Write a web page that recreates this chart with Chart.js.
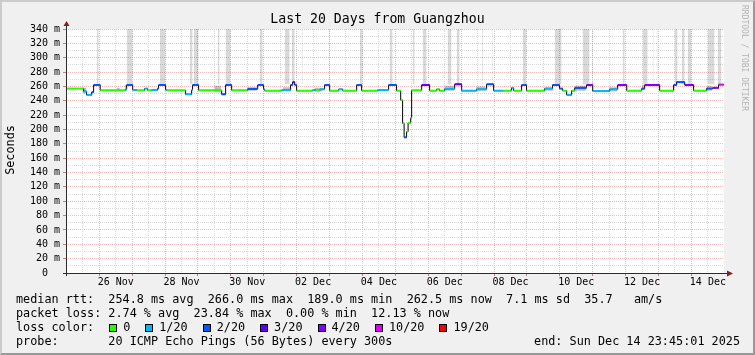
<!DOCTYPE html>
<html>
<head>
<meta charset="utf-8">
<title>Last 20 Days from Guangzhou</title>
<script src="https://cdn.jsdelivr.net/npm/chart.js@4.4.1/dist/chart.umd.min.js"></script>
<style>
  html, body { margin: 0; padding: 0; background: #f0f0f0; }
  #wrap { position: relative; width: 755px; height: 355px; overflow: hidden;
          font-family: 'DejaVu Sans Mono', monospace; color: #000; }
  #chart { position: absolute; left: 0; top: 0; }
  .txt { position: absolute; white-space: pre; }
  #title { left: 0; width: 755px; top: 11px; text-align: center; font-size: 13.2px; line-height: 16px; }
  #ylabel { left: -40px; top: 143px; width: 100px; text-align: center; font-size: 11.8px; line-height: 14px;
            transform: rotate(-90deg); }
  #credit { left: 740px; top: 5px; font-size: 8px; line-height: 9px; color: #b4b4b4; writing-mode: vertical-rl; }
  .leg { left: 16px; font-size: 11.8px; line-height: 14px; }
  #end { left: auto; right: 15px; top: 334px; }
  .box { display: inline-block; width: 8px; height: 8px; border: 1px solid #000; box-sizing: border-box;
         margin: 0 6px 0 15px; vertical-align: middle; }
  #frame { position: absolute; left: 0; top: 0; width: 755px; height: 355px; box-sizing: border-box;
           border: 2px solid; border-color: #cbcbcb #999999 #999999 #cbcbcb; pointer-events: none; }
</style>
</head>
<body>
<div id="wrap">
  <canvas id="chart" width="755" height="355"></canvas>
  <div class="txt" id="title">Last 20 Days from Guangzhou</div>
  <div class="txt" id="ylabel">Seconds</div>
  <div class="txt" id="credit">RRDTOOL / TOBI OETIKER</div>
  <div class="txt leg" style="top:292px">median rtt:  254.8 ms avg  266.0 ms max  189.0 ms min  262.5 ms now  7.1 ms sd  35.7   am/s</div>
  <div class="txt leg" style="top:306px">packet loss: 2.74 % avg  23.84 % max  0.00 % min  12.13 % now</div>
  <div class="txt leg" id="losscolor" style="top:320px">loss color:</div>
  <div class="txt leg" style="top:334px">probe:       20 ICMP Echo Pings (56 Bytes) every 300s</div>
  <div class="txt leg" id="end">end: Sun Dec 14 23:45:01 2025</div>
  <div id="frame"></div>
</div>
<script>
// hours counted from 25 Nov 00:00, graph ends 14 Dec 23:45
const startHour = -0.25;
const endHour = 479.75;

// loss legend
const lossLabels = ['0', '1/20', '2/20', '3/20', '4/20', '10/20', '19/20'];
const lossColors = ['#26ff00', '#00b8ff', '#0059ff', '#5e00ff', '#7e00ff', '#dd00ff', '#ff0000'];

// median rtt, step changes: start hour, value (ms), loss colour index
const rttHours = [-0.25, 12.6, 14.8, 18.5, 19.9, 24.7, 43.3, 44.0, 48.4, 51.3,
  57.1, 59.3, 62.2, 66.6, 67.3, 72.4, 73.2, 87.0, 91.4, 92.1,
  96.5, 113.3, 116.2, 120.6, 132.3, 139.6, 143.9, 144.7, 157.1, 163.6,
  165.1, 166.6, 168.0, 179.7, 182.0, 185.0, 188.4, 192.1, 198.7, 201.6,
  211.8, 215.4, 227.1, 235.1, 240.9, 243.9, 245.3, 246.4, 248.2, 249.3,
  251.2, 251.9, 259.2, 265.0, 270.1, 272.3, 275.9, 283.3, 288.4, 299.3,
  306.6, 311.7, 318.3, 324.8, 326.3, 332.1, 335.7, 348.9, 354.7, 359.8,
  362.0, 365.0, 368.6, 370.8, 379.5, 384.0, 396.4, 402.2, 408.8, 419.7,
  421.9, 432.8, 443.0, 445.2, 451.1, 457.6, 467.1, 471.5, 475.8];
const rttMs = [257, 253, 248, 252, 262, 254.5, 256, 262, 255, 254.5,
  257, 254.5, 255, 257, 262, 255, 254.5, 249, 255, 262,
  254.5, 249, 262, 254.5, 256.5, 262, 256, 254, 255, 262,
  266, 262, 254, 255, 254.5, 256, 262, 254, 256, 254,
  262, 254, 255, 262, 254, 241, 208.6, 189, 197, 209,
  216, 254.5, 262, 254, 256, 254, 256.5, 263, 254, 256,
  263, 254, 254, 258, 254, 262, 254, 257, 262, 257,
  254, 248, 254, 258, 262, 253.5, 256, 262, 254, 257,
  262, 254, 262, 266, 262, 254, 257, 258, 262.5];
const rttLoss = [0, 1, 1, 2, 2, 0, 1, 2, 1, 0,
  1, 0, 1, 2, 2, 1, 0, 1, 1, 2,
  0, 2, 2, 0, 2, 2, 1, 0, 1, 2,
  3, 2, 0, 1, 0, 1, 2, 0, 1, 0,
  2, 0, 1, 2, 0, 0, 0, 2, 0, 0,
  0, 0, 3, 0, 0, 0, 1, 3, 1, 1,
  2, 1, 0, 1, 0, 2, 0, 1, 2, 2,
  0, 1, 0, 2, 4, 1, 1, 4, 0, 2,
  4, 0, 2, 2, 4, 0, 2, 4, 5];

// light smoke running off the top of the graph (start, end hours)
const smokeTopStart = [22.1, 44.0, 68.1, 90.0, 92.9, 110.4, 116.2, 141.0, 159.3, 164.4,
  171.7, 191.4, 214.0, 235.8, 252.6, 259.9, 278.1, 284.7, 303.0, 310.3,
  332.9, 356.3, 376.6, 383.3, 405.8, 420.4, 427.7, 430.6, 443.7, 448.8,
  453.2, 467.8, 475.0];
const smokeTopEnd = [23.6, 48.4, 72.4, 92.1, 96.5, 111.8, 119.9, 143.2, 162.9, 166.6,
  172.4, 192.1, 216.2, 238.0, 254.1, 262.8, 281.0, 286.9, 303.8, 311.0,
  335.7, 361.3, 381.7, 384.0, 407.3, 424.1, 428.4, 431.3, 445.9, 451.1,
  456.1, 472.9, 477.9];

// darker smoke around the median
const smokeStart = [12.0, 36.7, 42.6, 108.0, 132.0, 158.0, 181.0, 276.0, 299.0, 349.0, 371.0, 396.0, 420.0, 467.0];
const smokeEnd = [14.8, 39.0, 44.0, 113.0, 139.0, 164.0, 187.0, 283.0, 306.0, 355.0, 379.0, 402.0, 422.0, 471.0];
const smokeLow = [250, 254, 255, 252, 254, 254, 253, 254, 254, 254, 254, 253, 255, 254];
const smokeHigh = [258, 258, 262, 261, 259, 259, 258, 261, 260, 259, 261, 259, 262, 261];

// axis labels
const xTickLabels = ['26 Nov', '28 Nov', '30 Nov', '02 Dec', '04 Dec', '06 Dec', '08 Dec', '10 Dec', '12 Dec', '14 Dec'];
const yTickLabels = ['0  ', '20 m', '40 m', '60 m', '80 m', '100 m', '120 m', '140 m', '160 m', '180 m',
  '200 m', '220 m', '240 m', '260 m', '280 m', '300 m', '320 m', '340 m'];

const MGRID = '#f1b9b9';
const GRID = '#dadada';
const tickFont = { family: 'DejaVu Sans Mono', size: 10 };

// loss colour legend boxes
const lossLegend = document.getElementById('losscolor');
lossLabels.forEach((lab, i) => {
    const b = document.createElement('span');
    b.className = 'box';
    b.style.background = lossColors[i];
    lossLegend.appendChild(b);
    lossLegend.appendChild(document.createTextNode(lab));
});

// grid positions: every 12 h on x, every 10 ms on y
const xGridHours = [];
for (let h = 0; h <= 468; h += 12) xGridHours.push(h);
const xLabelHours = xTickLabels.map((_, k) => 36 + 48 * k);
const yGridMs = [];
for (let v = 0; v <= 340; v += 10) yGridMs.push(v);

// build the plotted point lists
const medianPoints = rttHours.map((h, i) => ({ x: h, y: rttMs[i] }));
medianPoints.push({ x: endHour, y: rttMs[rttMs.length - 1] });

const lossPoints = [];
const lossIndex = [];
rttHours.forEach((h, i) => {
    const next = i + 1 < rttHours.length ? rttHours[i + 1] : endHour;
    lossPoints.push({ x: h, y: rttMs[i] }, { x: next, y: rttMs[i] }, { x: next, y: null });
    lossIndex.push(rttLoss[i], rttLoss[i], rttLoss[i]);
});

const topPoints = [];
smokeTopStart.forEach((s, i) => {
    topPoints.push({ x: s, y: 340 }, { x: smokeTopEnd[i], y: 340 }, { x: smokeTopEnd[i], y: null });
});

const lowPoints = [];
const highPoints = [];
smokeStart.forEach((s, i) => {
    const e = smokeEnd[i];
    lowPoints.push({ x: s, y: smokeLow[i] }, { x: e, y: smokeLow[i] }, { x: e, y: null });
    highPoints.push({ x: s, y: smokeHigh[i] }, { x: e, y: smokeHigh[i] }, { x: e, y: null });
});

// white canvas, axes and arrows like rrdtool
const rrdFrame = {
    id: 'rrdFrame',
    beforeDraw(chart) {
        const { ctx, chartArea: a } = chart;
        ctx.save();
        ctx.fillStyle = '#ffffff';
        ctx.fillRect(a.left, a.top, a.right - a.left, a.bottom - a.top);
        ctx.restore();
    },
    afterDraw(chart) {
        const { ctx, chartArea: a } = chart;
        const x0 = Math.round(a.left) + 0.5;
        const y0 = Math.round(a.bottom) + 0.5;
        ctx.save();
        ctx.strokeStyle = '#2b2b2b';
        ctx.lineWidth = 1;
        ctx.beginPath();
        ctx.moveTo(x0, a.bottom + 3);
        ctx.lineTo(x0, a.top - 4);
        ctx.moveTo(a.left - 3, y0);
        ctx.lineTo(a.right + 4, y0);
        ctx.stroke();
        ctx.fillStyle = '#8b1c1c';
        ctx.beginPath();
        ctx.moveTo(x0, a.top - 8);
        ctx.lineTo(x0 - 3, a.top - 3);
        ctx.lineTo(x0 + 3, a.top - 3);
        ctx.closePath();
        ctx.fill();
        ctx.beginPath();
        ctx.moveTo(a.right + 9, y0);
        ctx.lineTo(a.right + 3, y0 - 3);
        ctx.lineTo(a.right + 3, y0 + 3);
        ctx.closePath();
        ctx.fill();
        ctx.restore();
    }
};

new Chart(document.getElementById('chart'), {
    type: 'line',
    data: {
        datasets: [
            {   // 0: smoke above the top
                data: topPoints,
                borderWidth: 0,
                borderColor: 'rgba(0,0,0,0)',
                backgroundColor: 'rgba(0,0,0,0.15)',
                fill: { value: 263 },
                pointRadius: 0,
                order: 4
            },
            {   // 1: smoke low edge
                data: lowPoints,
                borderWidth: 0,
                borderColor: 'rgba(0,0,0,0)',
                fill: false,
                pointRadius: 0,
                order: 3
            },
            {   // 2: smoke high edge
                data: highPoints,
                borderWidth: 0,
                borderColor: 'rgba(0,0,0,0)',
                backgroundColor: 'rgba(70,70,70,0.35)',
                fill: 1,
                pointRadius: 0,
                order: 2
            },
            {   // 3: median, black steps
                data: medianPoints,
                borderColor: '#000000',
                borderWidth: 1,
                stepped: true,
                fill: false,
                pointRadius: 0,
                order: 1
            },
            {   // 4: median coloured by loss
                data: lossPoints,
                borderColor: lossColors[0],
                borderWidth: 2,
                fill: false,
                pointRadius: 0,
                segment: {
                    borderColor: c => lossColors[lossIndex[c.p0DataIndex]]
                },
                order: 0
            }
        ]
    },
    options: {
        responsive: false,
        animation: false,
        events: [],
        layout: { padding: { left: 0, right: 31, top: 29, bottom: 62 } },
        plugins: {
            legend: { display: false },
            tooltip: { enabled: false },
            title: { display: false }
        },
        scales: {
            x: {
                type: 'linear',
                min: startHour,
                max: endHour,
                afterBuildTicks: s => { s.ticks = xGridHours.map(v => ({ value: v })); },
                afterFit: s => { s.height = 20; },
                ticks: {
                    autoSkip: false,
                    maxRotation: 0,
                    minRotation: 0,
                    padding: 0,
                    color: '#000',
                    font: tickFont,
                    callback: v => {
                        const k = xLabelHours.indexOf(v);
                        return k < 0 ? '' : xTickLabels[k];
                    }
                },
                grid: {
                    color: c => (c.tick.value % 24 === 0 ? MGRID : GRID),
                    tickColor: c => (c.tick.value % 24 === 0 ? '#c08080' : 'rgba(0,0,0,0)'),
                    tickLength: 3,
                    lineWidth: 1
                },
                border: { display: false, dash: [1, 1] }
            },
            y: {
                type: 'linear',
                min: 0,
                max: 340,
                afterBuildTicks: s => { s.ticks = yGridMs.map(v => ({ value: v })); },
                afterFit: s => { s.width = 66; },
                ticks: {
                    autoSkip: false,
                    padding: 3,
                    color: '#000',
                    font: tickFont,
                    callback: v => (v % 20 === 0 ? yTickLabels[v / 20] : '')
                },
                grid: {
                    color: c => (c.tick.value % 20 === 0 ? MGRID : GRID),
                    tickColor: c => (c.tick.value % 20 === 0 ? '#c08080' : 'rgba(0,0,0,0)'),
                    tickLength: 3,
                    lineWidth: 1
                },
                border: { display: false, dash: [1, 1] }
            }
        }
    },
    plugins: [rrdFrame]
});
</script>
</body>
</html>
